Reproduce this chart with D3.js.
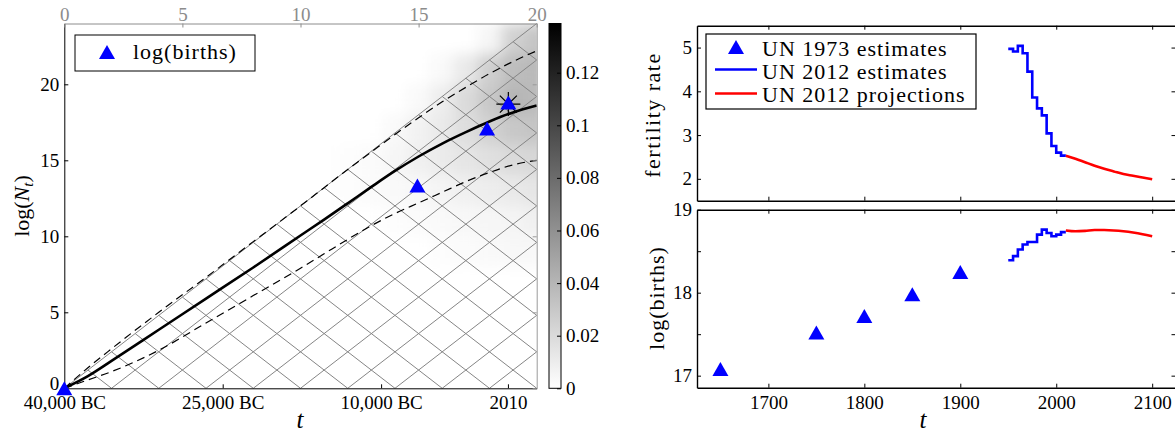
<!DOCTYPE html>
<html>
<head>
<meta charset="utf-8">
<script src="https://cdn.jsdelivr.net/npm/d3@7"></script>
<style>
  body { margin: 0; background: #fff; }
  svg text { font-family: "Liberation Serif", "DejaVu Serif", serif; }
</style>
</head>
<body>
<div id="chart"></div>
<script>
// ---------- data: left panel (generations model) ----------
const curveT   = [0, 1, 2, 4, 6, 8, 10, 11, 12, 13, 14, 15, 16, 17, 18, 19, 20];
const medianN  = [0, 0.8, 1.8, 3.85, 5.9, 7.95, 10.05, 11.1, 12.17, 13.25, 14.3, 15.25, 16.1, 16.85, 17.55, 18.15, 18.6];
const upperN   = [0, 1.35, 2.6, 5.0, 7.3, 9.65, 12.0, 13.2, 14.4, 15.55, 16.7, 17.8, 18.85, 19.8, 20.7, 21.5, 22.2];
const lowerN   = [0, 0.55, 1.1, 2.5, 4.3, 6.1, 7.9, 8.85, 9.8, 10.7, 11.5, 12.2, 12.9, 13.6, 14.2, 14.7, 15.0];
const birthsT    = [0, 14.95, 17.9, 18.8];
const birthsLogN = [0, 13.35, 17.1, 18.8];
const starT = [18.8], starN = [18.7];

// density of simulated paths (gray shading), rows = log(N) centres, cols = t centres
const densityT = [12, 13, 14, 15, 16, 17, 18, 19, 20];
const densityN = [23, 21, 19, 17, 15, 13, 11, 9];
const density = [
  [0, 0, 0, 0, 0, 0, 0.005, 0.025, 0.032],
  [0, 0, 0, 0, 0.003, 0.012, 0.026, 0.036, 0.038],
  [0, 0, 0, 0.003, 0.01, 0.02, 0.03, 0.04, 0.038],
  [0, 0, 0.003, 0.007, 0.012, 0.018, 0.025, 0.03, 0.032],
  [0.001, 0.002, 0.005, 0.008, 0.011, 0.014, 0.017, 0.02, 0.022],
  [0.001, 0.002, 0.003, 0.004, 0.006, 0.008, 0.01, 0.012, 0.014],
  [0, 0, 0.001, 0.002, 0.003, 0.004, 0.005, 0.006, 0.008],
  [0, 0, 0, 0, 0.001, 0.002, 0.003, 0.004, 0.004]
];
const latticeSlope = 1.2;
const latticeBottomT = [0, 2, 4, 6, 8, 10, 12, 14, 16, 18];
const latticeTopT = [1, 2, 3, 4, 5, 6, 7, 8, 9, 10, 11, 12, 13, 14, 15, 16, 17, 18, 19];

const genTicks = [0, 5, 10, 15, 20];
const logNTicks = [0, 5, 10, 15, 20];
const yearTicks = [-40000, -25000, -10000, 2010];
const cbarTicks = [0, 0.02, 0.04, 0.06, 0.08, 0.1, 0.12];
const cbarMax = 0.1387;

// ---------- data: right panels (UN figures) ----------
const estYears  = [1950, 1955, 1960, 1965, 1970, 1975, 1980, 1985, 1990, 1995, 2000, 2005];
const fertEst   = [4.97, 4.91, 5.04, 4.87, 4.45, 3.86, 3.61, 3.45, 3.04, 2.75, 2.60, 2.53];
const birthsEst = [18.39, 18.44, 18.52, 18.58, 18.61, 18.61, 18.70, 18.76, 18.72, 18.68, 18.70, 18.73];
const projYears  = [2010, 2020, 2030, 2040, 2050, 2060, 2070, 2080, 2090, 2100];
const fertProj   = [2.53, 2.46, 2.38, 2.30, 2.23, 2.17, 2.11, 2.07, 2.03, 1.99];
const birthsProj = [18.75, 18.74, 18.745, 18.755, 18.755, 18.75, 18.74, 18.725, 18.705, 18.68];
const un1973Years  = [1650, 1750, 1800, 1850, 1900];
const un1973Births = [17.08, 17.52, 17.72, 17.98, 18.25];
const yearTicksR = [1700, 1800, 1900, 2000, 2100];
const fertTicks = [2, 3, 4, 5];
const birthTicks = [17, 17.5, 18, 18.5, 19];

// ---------- setup ----------
const FONT = '"Liberation Serif", "DejaVu Serif", serif';
const svg = d3.select("#chart").append("svg")
    .attr("width", 1175)
    .attr("height", 434);

function tri(cx, cy) {
    let w = 16, h = 14;
    return `M${cx},${cy - h / 2}L${cx + w / 2},${cy + h / 2}L${cx - w / 2},${cy + h / 2}Z`;
}

function styleAxis(g, color, size) {
    g.attr("font-family", FONT).attr("font-size", size);
    g.selectAll("path.domain").attr("stroke", color);
    g.selectAll(".tick line").attr("stroke", color);
    g.selectAll(".tick text").attr("fill", color);
}

/* ================= LEFT PANEL ================= */
let L = { left: 64.3, right: 536.7, top: 23.5, bottom: 388.3 };
let xT = d3.scaleLinear().domain([0, 20]).range([L.left, L.right]);
let xYear = d3.scaleLinear().domain([-40000, 4735]).range([L.left, L.right]);
let yN = d3.scaleLinear().domain([0, 24]).range([L.bottom, L.top]);
let grey = d3.scaleLinear().domain([0, cbarMax]).range(["#ffffff", "#000000"]);

let defs = svg.append("defs");
defs.append("clipPath").attr("id", "clipL")
    .append("rect")
    .attr("x", L.left).attr("y", L.top)
    .attr("width", L.right - L.left).attr("height", L.bottom - L.top);
defs.append("filter").attr("id", "blur")
    .attr("filterUnits", "userSpaceOnUse")
    .attr("x", 0).attr("y", 0).attr("width", 700).attr("height", 434)
    .append("feGaussianBlur").attr("stdDeviation", 7);

// shading
let cells = [];
density.forEach((row, i) => row.forEach((v, j) => cells.push({ t: densityT[j], n: densityN[i], v: v })));
svg.append("g").attr("clip-path", "url(#clipL)")
    .append("g").attr("filter", "url(#blur)")
    .selectAll("rect")
    .data(cells)
    .enter()
    .append("rect")
    .attr("x", d => xT(d.t - 0.5))
    .attr("y", d => yN(d.n + 1))
    .attr("width", d => xT(d.t + 0.5) - xT(d.t - 0.5))
    .attr("height", d => yN(d.n - 1) - yN(d.n + 1))
    .attr("fill", d => grey(d.v));

// lattice
let lattice = svg.append("g").attr("stroke", "#858585").attr("stroke-width", 1);
latticeBottomT.forEach(t0 => {
    lattice.append("line")
        .attr("x1", xT(t0)).attr("y1", yN(0))
        .attr("x2", xT(20)).attr("y2", yN(latticeSlope * (20 - t0)));
});
latticeTopT.forEach(k => {
    let tEnd = Math.min(2 * k, 20);
    lattice.append("line")
        .attr("x1", xT(k)).attr("y1", yN(latticeSlope * k))
        .attr("x2", xT(tEnd)).attr("y2", yN(latticeSlope * (2 * k - tEnd)));
});

// curves
let line = d3.line().x(d => xT(d[0])).y(d => yN(d[1])).curve(d3.curveMonotoneX);
[upperN, lowerN].forEach(arr => {
    svg.append("path")
        .datum(curveT.map((t, i) => [t, arr[i]]))
        .attr("d", line)
        .attr("fill", "none")
        .attr("stroke", "#000")
        .attr("stroke-width", 1.2)
        .attr("stroke-dasharray", "8,5");
});
svg.append("path")
    .datum(curveT.map((t, i) => [t, medianN[i]]))
    .attr("d", line)
    .attr("fill", "none")
    .attr("stroke", "#000")
    .attr("stroke-width", 2.6);

// axes
let axL = svg.append("g").attr("transform", `translate(${L.left},0)`)
    .call(d3.axisLeft(yN).tickValues(logNTicks).tickSize(-4).tickSizeOuter(0).tickPadding(5));
styleAxis(axL, "#000", 19);
axL.selectAll(".tick text").filter(d => d === 0).attr("dy", "0.05em");
let axB = svg.append("g").attr("transform", `translate(0,${L.bottom})`)
    .call(d3.axisBottom(xYear).tickValues(yearTicks).tickSize(-4).tickSizeOuter(0).tickPadding(7)
        .tickFormat(d => d < 0 ? d3.format(",")(-d) + " BC" : String(d)));
styleAxis(axB, "#000", 19);
let axT = svg.append("g").attr("transform", `translate(0,${L.top})`)
    .call(d3.axisTop(xT).tickValues(genTicks).tickSize(-4).tickSizeOuter(0).tickPadding(3));
styleAxis(axT, "#8c8c8c", 19);
let axR = svg.append("g").attr("transform", `translate(${L.right},0)`)
    .call(d3.axisRight(yN).tickValues(logNTicks).tickSize(-4).tickSizeOuter(0).tickFormat(""));
styleAxis(axR, "#9a9a9a", 19);

// star + triangles
let st = d3.path();
starT.forEach((t, i) => {
    let cx = xT(t), cy = yN(starN[i]), r = 12, rd = 8.5;
    st.moveTo(cx - r, cy); st.lineTo(cx + r, cy);
    st.moveTo(cx, cy - r); st.lineTo(cx, cy + r);
    st.moveTo(cx - rd, cy - rd); st.lineTo(cx + rd, cy + rd);
    st.moveTo(cx - rd, cy + rd); st.lineTo(cx + rd, cy - rd);
});
svg.append("path").attr("d", st.toString()).attr("stroke", "#000").attr("stroke-width", 1.2);

svg.append("g").selectAll("path")
    .data(birthsT.map((t, i) => [t, birthsLogN[i]]))
    .enter()
    .append("path")
    .attr("d", d => tri(xT(d[0]), yN(d[1])))
    .attr("fill", "#0000ff");

// legend
svg.append("rect").attr("x", 75).attr("y", 35).attr("width", 180).attr("height", 36)
    .attr("fill", "#fff").attr("stroke", "#000").attr("stroke-width", 1);
svg.append("path").attr("d", tri(107, 52)).attr("fill", "#0000ff");
svg.append("text").attr("x", 133).attr("y", 59).attr("font-size", 22)
    .attr("letter-spacing", 1).text("log(births)");

// axis labels
let ylab = svg.append("text")
    .attr("transform", "translate(29,206) rotate(-90)")
    .attr("text-anchor", "middle").attr("font-size", 22);
ylab.append("tspan").text("log(");
ylab.append("tspan").attr("font-style", "italic").text("N");
ylab.append("tspan").attr("font-style", "italic").attr("font-size", 15).attr("dy", 4).text("t");
ylab.append("tspan").attr("dy", -4).text(")");
svg.append("text").attr("x", 300).attr("y", 428).attr("text-anchor", "middle")
    .attr("font-size", 25).attr("font-style", "italic").text("t");

// colorbar
let C = { left: 549, right: 561 };
let yC = d3.scaleLinear().domain([0, cbarMax]).range([L.bottom, L.top]);
let grad = defs.append("linearGradient").attr("id", "cbar")
    .attr("x1", 0).attr("y1", 1).attr("x2", 0).attr("y2", 0);
grad.append("stop").attr("offset", 0).attr("stop-color", grey(0));
grad.append("stop").attr("offset", 1).attr("stop-color", grey(cbarMax));
svg.append("rect").attr("x", C.left).attr("y", L.top)
    .attr("width", C.right - C.left).attr("height", L.bottom - L.top)
    .attr("fill", "url(#cbar)").attr("stroke", "#000").attr("stroke-width", 1);
let axC = svg.append("g").attr("transform", `translate(${C.right},0)`)
    .call(d3.axisRight(yC).tickValues(cbarTicks).tickSize(-4).tickSizeOuter(0).tickPadding(5)
        .tickFormat(d => d === 0 ? "0" : String(+d.toFixed(2))));
styleAxis(axC, "#000", 19);
axC.select("path.domain").remove();

/* ================= RIGHT PANELS ================= */
let R = { left: 697, right: 1175.5 };
let xR = d3.scaleLinear().domain([1625.6, 2124.3]).range([R.left, R.right]);
let P1 = { top: 25.7, bottom: 200.7 };
let P2 = { top: 209.7, bottom: 387.7 };
let yF = d3.scaleLinear().domain([1.5, 5.5]).range([P1.bottom, P1.top]);
let yB = d3.scaleLinear().domain([16.855, 19]).range([P2.bottom, P2.top]);

function panelFrame(P, yScale, ticks, fmt, showX) {
    let g = svg.append("g");
    styleAxis(g.append("g").attr("transform", `translate(${R.left},0)`)
        .call(d3.axisLeft(yScale).tickValues(ticks).tickSize(-4).tickSizeOuter(0).tickPadding(5).tickFormat(fmt)), "#000", 19);
    styleAxis(g.append("g").attr("transform", `translate(${R.right},0)`)
        .call(d3.axisRight(yScale).tickValues(ticks).tickSize(-4).tickSizeOuter(0).tickFormat("")), "#000", 19);
    styleAxis(g.append("g").attr("transform", `translate(0,${P.bottom})`)
        .call(d3.axisBottom(xR).tickValues(yearTicksR).tickSize(-4).tickSizeOuter(0).tickPadding(8)
            .tickFormat(showX ? d3.format("d") : "")), "#000", 19);
    styleAxis(g.append("g").attr("transform", `translate(0,${P.top})`)
        .call(d3.axisTop(xR).tickValues(yearTicksR).tickSize(-4).tickSizeOuter(0).tickFormat("")), "#000", 19);
    g.selectAll("path.domain").attr("stroke-width", 1.4);
}
panelFrame(P1, yF, fertTicks, d3.format("d"), false);
panelFrame(P2, yB, birthTicks, d => Number.isInteger(d) ? String(d) : "", true);

let stairs = (ys) => d3.line().x(d => xR(d[0])).y(d => ys(d[1])).curve(d3.curveStepAfter);
let smooth = (ys) => d3.line().x(d => xR(d[0])).y(d => ys(d[1])).curve(d3.curveMonotoneX);

function drawSeries(ys, est, proj) {
    let estPts = estYears.map((y, i) => [y, est[i]]);
    estPts.push([2010, est[est.length - 1]]);
    svg.append("path").datum(estPts).attr("d", stairs(ys))
        .attr("fill", "none").attr("stroke", "#0000ff").attr("stroke-width", 2.6);
    svg.append("path").datum(projYears.map((y, i) => [y, proj[i]])).attr("d", smooth(ys))
        .attr("fill", "none").attr("stroke", "#ff0000").attr("stroke-width", 2.6);
}
drawSeries(yF, fertEst, fertProj);
drawSeries(yB, birthsEst, birthsProj);

svg.append("g").selectAll("path")
    .data(un1973Years.map((y, i) => [y, un1973Births[i]]))
    .enter()
    .append("path")
    .attr("d", d => tri(xR(d[0]), yB(d[1])))
    .attr("fill", "#0000ff");

// legend (top panel)
let lg = svg.append("g");
lg.append("rect").attr("x", 706).attr("y", 34).attr("width", 270).attr("height", 75)
    .attr("fill", "#fff").attr("stroke", "#000").attr("stroke-width", 1.2);
lg.append("path").attr("d", tri(736, 47)).attr("fill", "#0000ff");
lg.append("line").attr("x1", 715).attr("x2", 757).attr("y1", 69.5).attr("y2", 69.5)
    .attr("stroke", "#0000ff").attr("stroke-width", 2.6);
lg.append("line").attr("x1", 715).attr("x2", 757).attr("y1", 93.5).attr("y2", 93.5)
    .attr("stroke", "#ff0000").attr("stroke-width", 2.6);
["UN 1973 estimates", "UN 2012 estimates", "UN 2012 projections"].forEach((s, i) => {
    lg.append("text").attr("x", 762).attr("y", 55.5 + i * 23)
        .attr("font-size", 22).attr("letter-spacing", 1).text(s);
});

// labels
svg.append("text").attr("transform", "translate(660,115) rotate(-90)")
    .attr("text-anchor", "middle").attr("font-size", 22).attr("letter-spacing", 1.5).text("fertility rate");
svg.append("text").attr("transform", "translate(664,298) rotate(-90)")
    .attr("text-anchor", "middle").attr("font-size", 22).attr("letter-spacing", 1).text("log(births)");
svg.append("text").attr("x", 923).attr("y", 428).attr("text-anchor", "middle")
    .attr("font-size", 25).attr("font-style", "italic").text("t");
</script>
</body>
</html>
